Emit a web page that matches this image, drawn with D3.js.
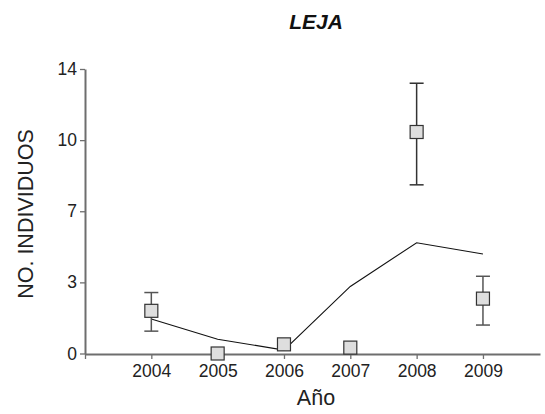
<!DOCTYPE html>
<html><head><meta charset="utf-8">
<script src="https://cdn.jsdelivr.net/npm/d3@7"></script>
<style>body{margin:0;background:#fff}svg{display:block}text{font-family:"Liberation Sans",Arial,sans-serif}</style>
</head><body>
<svg id="c" width="545" height="414"></svg>
<script>
const years = [2004, 2005, 2006, 2007, 2008, 2009];
const means = [2.1, 0.0, 0.45, 0.29, 10.9, 2.7];
const errLow = [1.1, null, 0.2, null, 8.3, 1.4];
const errHigh = [3.0, null, 0.6, null, 13.3, 3.8];
const lineVals = [1.7, 0.7, 0.17, 3.3, 5.45, 4.9];
const yTickValues = [0, 3.5, 7, 10.5, 14];
const yTickLabels = ["0", "3", "7", "10", "14"];
const xTickValues = [2003, 2004, 2005, 2006, 2007, 2008, 2009];

const svg = d3.select("#c");
const x = d3.scaleLinear().domain([2003, 2009.86]).range([85, 540]);
const y = d3.scaleLinear().domain([0, 14]).range([353.5, 69]);
const axisColor = "#6e6e6e";

const yAxis = svg.append("g").attr("transform", "translate(85,0)")
  .call(d3.axisLeft(y).tickValues(yTickValues).tickFormat((d, i) => yTickLabels[i]).tickSize(5).tickSizeOuter(0));
const xAxis = svg.append("g").attr("transform", "translate(0,354)")
  .call(d3.axisBottom(x).tickValues(xTickValues).tickFormat(d => d === 2003 ? "" : String(d)).tickSize(5).tickSizeOuter(0));
[yAxis, xAxis].forEach(a => {
  a.select(".domain").attr("stroke", axisColor).attr("stroke-width", 2);
  a.selectAll(".tick line").attr("stroke", axisColor).attr("stroke-width", 1.3);
  a.selectAll(".tick text").attr("fill", "#222").style("font-size", "17.5px");
});
yAxis.selectAll(".tick text").attr("x", -8);
xAxis.selectAll(".tick text").attr("y", 11);

// line
const lg = d3.line().x((d, i) => x(years[i])).y(d => y(d));
svg.append("path").datum(lineVals).attr("d", lg).attr("fill", "none").attr("stroke", "#111").attr("stroke-width", 1.1);

// error bars
const eb = svg.append("g");
years.forEach((yr, i) => {
  if (errLow[i] == null) return;
  const cx = x(yr), c = i === 4 ? "#333" : "#555";
  eb.append("line").attr("x1", cx).attr("x2", cx).attr("y1", y(errLow[i])).attr("y2", y(errHigh[i])).attr("stroke", c).attr("stroke-width", 1.5);
  [errLow[i], errHigh[i]].forEach(v => eb.append("line").attr("x1", cx - 7).attr("x2", cx + 7).attr("y1", y(v)).attr("y2", y(v)).attr("stroke", c).attr("stroke-width", 1.5));
});

// squares
const s = 13;
svg.append("g").selectAll("rect").data(means).join("rect")
  .attr("x", (d, i) => x(years[i]) - s / 2).attr("y", d => y(d) - s / 2)
  .attr("width", s).attr("height", s)
  .attr("fill", "#dedede").attr("stroke", "#333").attr("stroke-width", 1.2);

svg.append("text").attr("x", 316).attr("y", 28.5).attr("text-anchor", "middle")
  .style("font-size", "21px").style("font-weight", "bold").style("font-style", "italic").attr("fill", "#111").text("LEJA");
svg.append("text").attr("transform", "translate(33,214) rotate(-90)").attr("text-anchor", "middle")
  .style("font-size", "21.5px").attr("fill", "#222").text("NO. INDIVIDUOS");
svg.append("text").attr("x", 316).attr("y", 405).attr("text-anchor", "middle")
  .style("font-size", "21.5px").attr("fill", "#222").text("Año");
</script>
</body></html>
